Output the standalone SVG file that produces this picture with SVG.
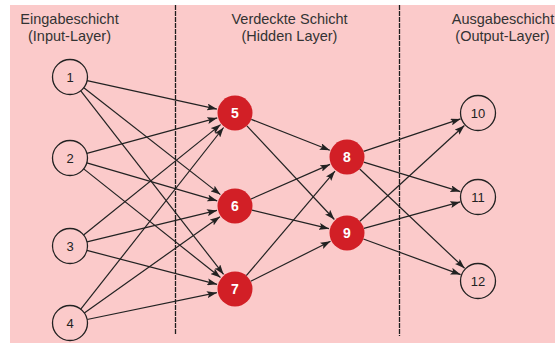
<svg xmlns="http://www.w3.org/2000/svg" width="555" height="345" viewBox="0 0 555 345">
  <style>
    .bg { fill: #fbcaca; }
    .divider { stroke: #1e1e1e; stroke-width: 1.3; stroke-dasharray: 5 1; fill: none; }
    .head { font-family: "Liberation Sans", Arial, sans-serif; font-size: 14.5px; fill: #333; text-anchor: middle; }
    .edge { stroke: #222; stroke-width: 1.2; fill: none; marker-end: url(#arrow); }
    .plain circle { fill: #fbcaca; stroke: #222; stroke-width: 1.3; }
    .plain text { font-family: "Liberation Sans", Arial, sans-serif; font-size: 13px; fill: #222; text-anchor: middle; }
    .hidden circle { fill: #d21f26; stroke: none; }
    .hidden text { font-family: "Liberation Sans", Arial, sans-serif; font-size: 14px; font-weight: bold; fill: #fff; text-anchor: middle; }
  </style>
  <defs>
    <marker id="arrow" markerUnits="userSpaceOnUse" viewBox="0 0 10 7" refX="10" refY="3.5" markerWidth="10" markerHeight="7" orient="auto">
      <path d="M0,0 L10,3.5 L0,7 L2,3.5 z" fill="#222"/>
    </marker>
  </defs>

  <!-- background panel -->
  <rect class="bg" x="10" y="5" width="545" height="338"/>

  <!-- layer dividers -->
  <line class="divider" x1="175.5" y1="5" x2="175.5" y2="334"/>
  <line class="divider" x1="399.5" y1="5" x2="399.5" y2="336"/>

  <!-- layer headings -->
  <g id="headings">
    <text class="head" x="69.5" y="24">Eingabeschicht</text>
    <text class="head" x="69.5" y="41">(Input-Layer)</text>
    <text class="head" x="289.5" y="24">Verdeckte Schicht</text>
    <text class="head" x="289.5" y="41">(Hidden Layer)</text>
    <text class="head" x="503" y="24">Ausgabeschicht</text>
    <text class="head" x="502.5" y="41">(Output-Layer)</text>
  </g>

  <!-- connectors -->
  <g id="connectors">
    <!-- input to hidden -->
    <line class="edge" x1="87.1" y1="80.7" x2="216.9" y2="109.1"/>
    <line class="edge" x1="83.8" y1="87.8" x2="220.4" y2="194.6"/>
    <line class="edge" x1="80.8" y1="90.8" x2="223.6" y2="274.4"/>
    <line class="edge" x1="86.9" y1="153.4" x2="217.2" y2="117.9"/>
    <line class="edge" x1="86.8" y1="162.9" x2="217.2" y2="200.8"/>
    <line class="edge" x1="83.7" y1="168.9" x2="220.5" y2="277.5"/>
    <line class="edge" x1="83.6" y1="235.0" x2="220.6" y2="124.6"/>
    <line class="edge" x1="87.0" y1="241.9" x2="217.0" y2="210.4"/>
    <line class="edge" x1="86.9" y1="250.4" x2="217.1" y2="284.3"/>
    <line class="edge" x1="80.8" y1="309.2" x2="223.6" y2="127.5"/>
    <line class="edge" x1="84.3" y1="312.9" x2="219.9" y2="216.7"/>
    <line class="edge" x1="87.1" y1="319.5" x2="216.9" y2="292.7"/>
    <!-- hidden to hidden -->
    <line class="edge" x1="251.3" y1="119.4" x2="329.8" y2="150.2"/>
    <line class="edge" x1="246.9" y1="125.8" x2="334.4" y2="219.5"/>
    <line class="edge" x1="251.0" y1="199.0" x2="330.0" y2="164.4"/>
    <line class="edge" x1="252.0" y1="210.1" x2="329.0" y2="228.7"/>
    <line class="edge" x1="246.3" y1="275.7" x2="335.0" y2="171.1"/>
    <line class="edge" x1="250.7" y1="281.2" x2="330.5" y2="241.3"/>
    <!-- hidden to output -->
    <line class="edge" x1="363.6" y1="151.4" x2="460.5" y2="118.9"/>
    <line class="edge" x1="363.7" y1="162.1" x2="460.3" y2="191.6"/>
    <line class="edge" x1="359.7" y1="169.0" x2="464.6" y2="268.3"/>
    <line class="edge" x1="359.9" y1="221.2" x2="464.4" y2="125.5"/>
    <line class="edge" x1="363.9" y1="228.4" x2="460.2" y2="201.9"/>
    <line class="edge" x1="363.4" y1="239.0" x2="460.6" y2="274.6"/>
  </g>

  <!-- input layer -->
  <g id="n1" class="plain"><circle cx="70" cy="77" r="17.5"/><text x="70" y="81.5">1</text></g>
  <g id="n2" class="plain"><circle cx="70" cy="158" r="17.5"/><text x="70" y="162.5">2</text></g>
  <g id="n3" class="plain"><circle cx="70" cy="246" r="17.5"/><text x="70" y="250.5">3</text></g>
  <g id="n4" class="plain"><circle cx="70" cy="323" r="17.5"/><text x="70" y="327.5">4</text></g>

  <!-- hidden layers -->
  <g id="n5" class="hidden"><circle cx="235" cy="113" r="17.5"/><text x="235" y="118">5</text></g>
  <g id="n6" class="hidden"><circle cx="235" cy="206" r="17.5"/><text x="235" y="211">6</text></g>
  <g id="n7" class="hidden"><circle cx="235" cy="289" r="17.5"/><text x="235" y="294">7</text></g>
  <g id="n8" class="hidden"><circle cx="347" cy="157" r="17.5"/><text x="347" y="162">8</text></g>
  <g id="n9" class="hidden"><circle cx="347" cy="233" r="17.5"/><text x="347" y="238">9</text></g>

  <!-- output layer -->
  <g id="n10" class="plain"><circle cx="478" cy="113" r="17.5"/><text x="478" y="117.5">10</text></g>
  <g id="n11" class="plain"><circle cx="478" cy="197" r="17.5"/><text x="478" y="201.5">11</text></g>
  <g id="n12" class="plain"><circle cx="478" cy="281" r="17.5"/><text x="478" y="285.5">12</text></g>
</svg>
